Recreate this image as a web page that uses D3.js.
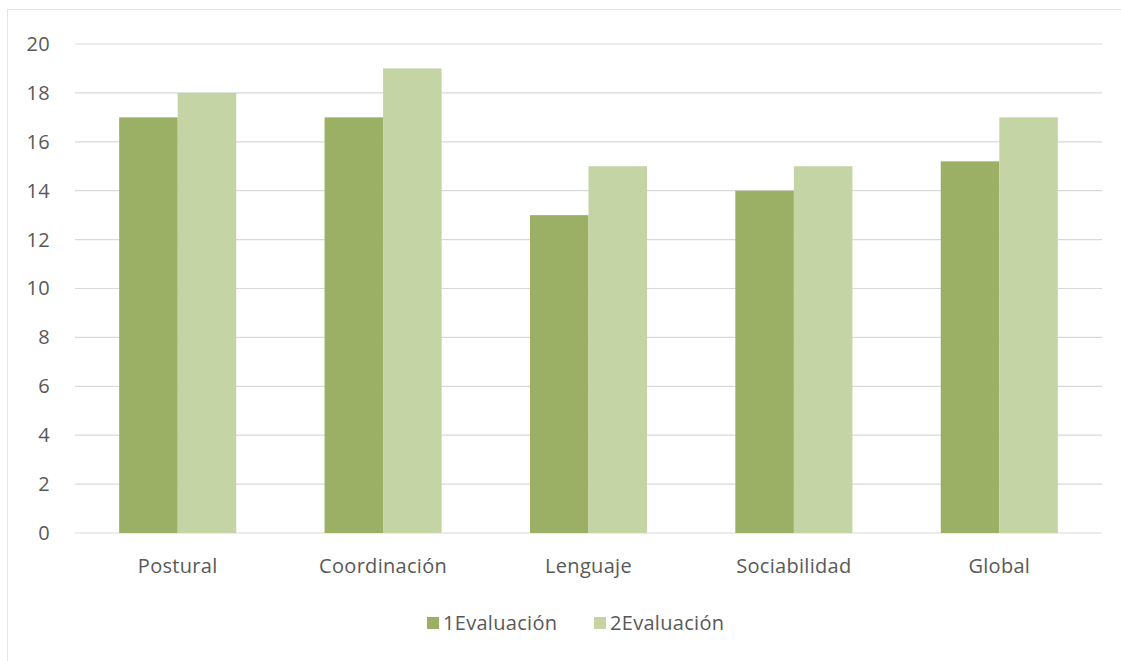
<!DOCTYPE html>
<html lang="es">
<head>
<meta charset="UTF-8" />
<script src="https://d3js.org/d3.v7.min.js"></script>
<style>
  body { margin: 0; background: #fff; }
  svg { display: block; }
  .tick text, .legend text { fill: #595959; font-size: 20px; letter-spacing: 0.3px; font-family: "Open Sans", sans-serif; }
</style>
</head>
<body>
<svg id="chart" width="1121" height="661"></svg>
<script>
const categories = ["Postural", "Coordinación", "Lenguaje", "Sociabilidad", "Global"];
const seriesNames = ["1Evaluación", "2Evaluación"];
const eval1 = [17, 17, 13, 14, 15.2];
const eval2 = [18, 19, 15, 15, 17];
const yTicks = [0, 2, 4, 6, 8, 10, 12, 14, 16, 18, 20];
const colors = ["#9bb064", "#c4d4a4"];

const svg = d3.select("#chart");
const margin = { top: 44, right: 19, bottom: 128, left: 75 };
const W = 1121, H = 661;

// outer chart frame
svg.append("rect")
  .attr("x", 7.5).attr("y", 9.5)
  .attr("width", W).attr("height", H)
  .attr("fill", "none").attr("stroke", "#e6e6e6");

const x = d3.scaleBand().domain(categories)
  .range([margin.left, W - margin.right])
  .paddingInner(0.43).paddingOuter(0.215);
const x1 = d3.scaleBand().domain(seriesNames).range([0, x.bandwidth()]);
const y = d3.scaleLinear().domain([0, 20]).range([H - margin.bottom, margin.top]);

// gridlines
svg.append("g")
  .selectAll("line").data(yTicks).join("line")
  .attr("x1", margin.left).attr("x2", W - margin.right)
  .attr("y1", d => y(d)).attr("y2", d => y(d))
  .attr("stroke", "#d9d9d9").attr("stroke-width", 1.2);

// y axis labels
const yAxis = svg.append("g")
  .attr("transform", `translate(${margin.left - 25},0)`)
  .call(d3.axisLeft(y).tickValues(yTicks).tickSize(0).tickPadding(0));
yAxis.select(".domain").remove();

const rows = categories.map((c, i) => ({ cat: c, vals: [eval1[i], eval2[i]] }));

svg.append("g")
  .selectAll("g").data(rows).join("g")
  .attr("transform", d => `translate(${x(d.cat)},0)`)
  .selectAll("rect").data(d => d.vals.map((v, j) => ({ key: seriesNames[j], v, j })))
  .join("rect")
  .attr("x", d => x1(d.key))
  .attr("width", x1.bandwidth())
  .attr("y", d => y(d.v))
  .attr("height", d => y(0) - y(d.v))
  .attr("fill", d => colors[d.j]);

// x axis labels
const xAxis = svg.append("g")
  .attr("transform", `translate(0,${y(0) + 20})`)
  .call(d3.axisBottom(x).tickSize(0).tickPadding(6));
xAxis.select(".domain").remove();

// legend
const legend = svg.append("g").attr("class", "legend")
  .attr("transform", "translate(427,623)");
const legendX = [0, 167];
seriesNames.forEach((s, i) => {
  const g = legend.append("g").attr("transform", `translate(${legendX[i]},0)`);
  g.append("rect").attr("x", 0).attr("y", -6).attr("width", 12).attr("height", 12).attr("fill", colors[i]);
  g.append("text").attr("x", 16).attr("y", 0).attr("dy", "0.35em").text(s);
});
</script>
</body>
</html>
